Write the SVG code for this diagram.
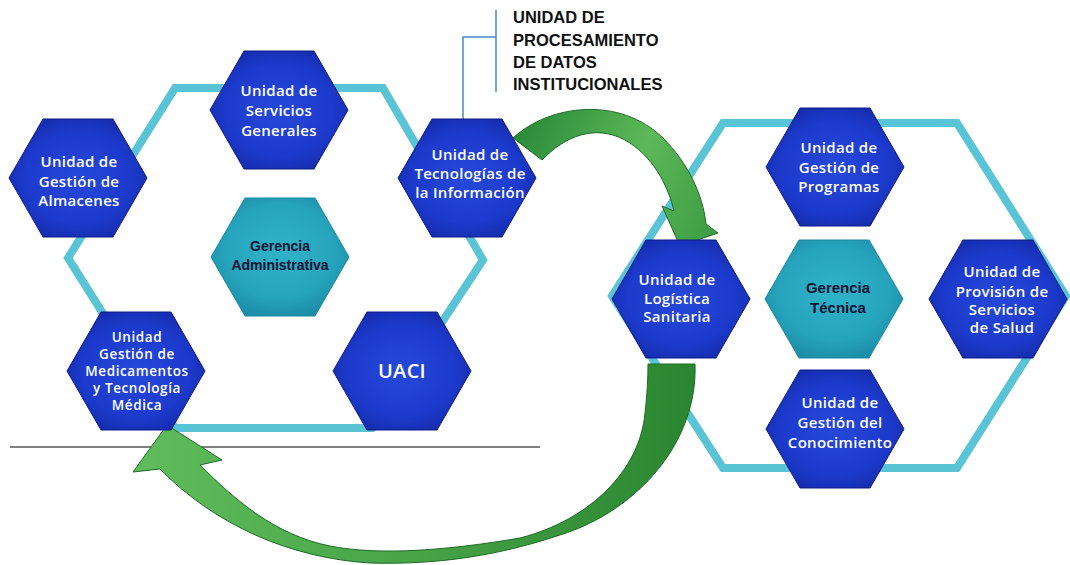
<svg xmlns="http://www.w3.org/2000/svg" xmlns:xlink="http://www.w3.org/1999/xlink" width="1070" height="565" viewBox="0 0 1070 565">
<defs>
<style>
.frame{fill:none;stroke:#58c4d6;stroke-width:8;stroke-linejoin:miter}
.blue{fill:url(#gBlue);stroke:#0d1a86;stroke-width:1}
.teal{fill:url(#gTeal);stroke:#188aa2;stroke-width:1}
.lbl{font-family:"Open Sans","Liberation Sans",sans-serif;font-weight:600;font-size:15px;fill:#ffffff;text-anchor:middle;letter-spacing:0.3px}
.ger{font-family:"Liberation Sans",Arial,sans-serif;font-weight:bold;font-size:14px;fill:#0b1233;text-anchor:middle}
.top{font-family:"Liberation Sans",Arial,sans-serif;font-weight:bold;font-size:16.5px;fill:#111111}
.brk{fill:none;stroke:#4a86c8;stroke-width:1.5}
.arrow{stroke:#1f6a26;stroke-width:1}
</style>
<radialGradient id="gBlue" cx="0.5" cy="0.5" r="0.6">
<stop offset="0" stop-color="#2649da"/>
<stop offset="0.65" stop-color="#1c3acb"/>
<stop offset="1" stop-color="#1228a6"/>
</radialGradient>
<radialGradient id="gTeal" cx="0.5" cy="0.45" r="0.6">
<stop offset="0" stop-color="#2fb3c9"/>
<stop offset="0.65" stop-color="#27a4bd"/>
<stop offset="1" stop-color="#1a8aa5"/>
</radialGradient>
<linearGradient id="gArr1" gradientUnits="userSpaceOnUse" x1="513" y1="140" x2="718" y2="230">
<stop offset="0" stop-color="#2a8a3a"/>
<stop offset="0.55" stop-color="#5cb858"/>
<stop offset="1" stop-color="#3d9c44"/>
</linearGradient>
<linearGradient id="gArr2" gradientUnits="userSpaceOnUse" x1="130" y1="470" x2="700" y2="470">
<stop offset="0" stop-color="#5fbd5c"/>
<stop offset="0.5" stop-color="#47a447"/>
<stop offset="1" stop-color="#2a8530"/>
</linearGradient>
<path id="hex" d="M-69,0 L-35,-59 L35,-59 L69,0 L35,59 L-35,59 Z"/>
</defs>
<rect width="1070" height="565" fill="#ffffff"/>

<g id="frames">
<polygon class="frame" points="175,88 383,88 483,260 372,428 175,428 68,258"/>
<polygon class="frame" points="723,123 957,123 1066,296 957,468 723,468 612,296"/>
</g>

<line x1="10" y1="447" x2="540" y2="447" stroke="#555555" stroke-width="1.5"/>

<g id="connectors">
<polyline class="brk" points="496,10 496,92"/>
<polyline class="brk" points="496,37 463,37 463,120"/>
<path class="arrow" fill="url(#gArr1)" d="M513,138 C550,104 620,96 663,138 C688,163 703,195 706,224 L718,233 L680,246 L662,206 L674,211 C668,185 652,155 625,140 C595,124 565,136 542,160 Z"/>
<path class="arrow" fill="url(#gArr2)" d="M648,364 L695,364 C698,440 640,510 560,535 C500,555 440,565 370,563 C290,558 215,525 160,469 L133,472 L167,425 L222,460 L200,465 C235,500 275,535 330,546 C380,556 450,550 520,538 C590,520 640,470 645,413 C647,395 648,380 648,364 Z"/>
</g>

<g id="n-almacenes">
<use xlink:href="#hex" href="#hex" x="78" y="178" class="blue"/>
<text class="lbl"><tspan x="79" y="167">Unidad de</tspan><tspan x="79" y="187">Gestión de</tspan><tspan x="79" y="206">Almacenes</tspan></text>
</g>
<g id="n-servicios">
<use xlink:href="#hex" href="#hex" x="279" y="110" class="blue"/>
<text class="lbl"><tspan x="279" y="96">Unidad de</tspan><tspan x="279" y="116">Servicios</tspan><tspan x="279" y="136">Generales</tspan></text>
</g>
<g id="n-gerencia-adm">
<use xlink:href="#hex" href="#hex" x="280" y="257" class="teal"/>
<text class="ger"><tspan x="280" y="251">Gerencia</tspan><tspan x="280" y="270">Administrativa</tspan></text>
</g>
<g id="n-tecnologias">
<use xlink:href="#hex" href="#hex" x="467" y="178" class="blue"/>
<text class="lbl"><tspan x="470" y="160">Unidad de</tspan><tspan x="470" y="179">Tecnologías de</tspan><tspan x="470" y="198">la Información</tspan></text>
</g>
<g id="n-medicamentos">
<use xlink:href="#hex" href="#hex" x="136" y="371" class="blue"/>
<text class="lbl" style="font-size:13.5px;letter-spacing:0.6px"><tspan x="137" y="342">Unidad</tspan><tspan x="137" y="359">Gestión de</tspan><tspan x="137" y="376">Medicamentos</tspan><tspan x="137" y="393">y Tecnología</tspan><tspan x="137" y="410">Médica</tspan></text>
</g>
<g id="n-uaci">
<use xlink:href="#hex" href="#hex" x="402" y="371" class="blue"/>
<text class="lbl" style="font-size:20px"><tspan x="402" y="378">UACI</tspan></text>
</g>
<g id="n-programas">
<use xlink:href="#hex" href="#hex" x="835" y="167" class="blue"/>
<text class="lbl"><tspan x="839" y="153">Unidad de</tspan><tspan x="839" y="173">Gestión de</tspan><tspan x="839" y="192">Programas</tspan></text>
</g>
<g id="n-logistica">
<use xlink:href="#hex" href="#hex" x="681" y="299" class="blue"/>
<text class="lbl"><tspan x="677" y="285">Unidad de</tspan><tspan x="677" y="304">Logística</tspan><tspan x="677" y="322">Sanitaria</tspan></text>
</g>
<g id="n-gerencia-tec">
<use xlink:href="#hex" href="#hex" x="834" y="299" class="teal"/>
<text class="ger" style="font-size:15px"><tspan x="838" y="293">Gerencia</tspan><tspan x="838" y="313">Técnica</tspan></text>
</g>
<g id="n-provision">
<use xlink:href="#hex" href="#hex" x="998" y="299" class="blue"/>
<text class="lbl"><tspan x="1002" y="277">Unidad de</tspan><tspan x="1002" y="297">Provisión de</tspan><tspan x="1002" y="315">Servicios</tspan><tspan x="1002" y="333">de Salud</tspan></text>
</g>
<g id="n-conocimiento">
<use xlink:href="#hex" href="#hex" x="835" y="429" class="blue"/>
<text class="lbl"><tspan x="840" y="408">Unidad de</tspan><tspan x="840" y="428">Gestión del</tspan><tspan x="840" y="448">Conocimiento</tspan></text>
</g>

<g id="n-procesamiento">
<text class="top"><tspan x="513" y="23">UNIDAD DE</tspan><tspan x="513" y="46">PROCESAMIENTO</tspan><tspan x="513" y="68">DE DATOS</tspan><tspan x="513" y="90">INSTITUCIONALES</tspan></text>
</g>
</svg>
